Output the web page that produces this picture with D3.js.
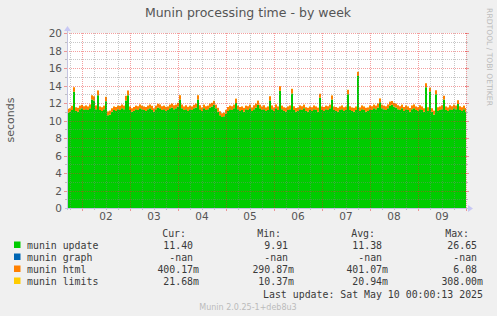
<!DOCTYPE html>
<html>
<head>
<meta charset="utf-8">
<script src="https://cdn.jsdelivr.net/npm/d3@7"></script>
<style>
  html, body { margin: 0; padding: 0; background: #f0f0f0; }
  svg { display: block; }
  text { font-family: "DejaVu Sans", sans-serif; }
  .mono { font-family: "DejaVu Sans Mono", monospace; font-size: 9.9px; fill: #3a3a3a; }
</style>
</head>
<body>
<script>
// hourly bins, first one starts at the left edge of the graph
const startTime = new Date(2025, 4, 1, 16, 30);
const endTime = new Date(2025, 4, 10, 0, 0);

// munin update (seconds)
const updateValues = [
  10.9, 11.0, 11.2, 13.3, 11.1, 11.0, 11.3, 11.4, 11.2, 11.3,
  11.2, 11.4, 12.4, 12.3, 11.3, 12.9, 11.2, 11.1, 11.3, 12.2,
  10.6, 10.7, 11.0, 11.2, 11.1, 11.3, 11.2, 11.4, 11.3, 12.3,
  12.9, 11.2, 11.0, 11.1, 11.3, 11.2, 11.4, 11.3, 11.2, 11.1,
  11.3, 11.4, 11.2, 11.0, 11.3, 11.5, 11.4, 11.2, 11.3, 11.1,
  11.2, 11.4, 11.5, 11.3, 11.4, 11.6, 12.4, 11.4, 11.2, 11.3,
  11.1, 11.3, 11.2, 11.4, 11.5, 12.4, 11.3, 11.1, 11.4, 11.2,
  11.3, 11.5, 11.6, 11.8, 11.4, 11.0, 10.6, 10.4, 10.5, 10.8,
  11.1, 11.3, 11.2, 11.4, 12.0, 11.3, 11.1, 11.2, 11.0, 11.3,
  11.2, 11.4, 11.1, 11.3, 11.5, 11.8, 11.4, 11.2, 11.3, 11.1,
  11.2, 12.3, 11.3, 11.1, 11.4, 11.2, 13.4, 11.3, 11.1, 11.0,
  11.2, 11.3, 13.1, 11.2, 11.0, 11.1, 11.3, 11.2, 11.4, 11.1,
  11.0, 11.2, 11.1, 11.3, 11.2, 11.0, 12.6, 11.2, 11.1, 11.3,
  11.2, 11.4, 12.4, 11.2, 11.1, 11.0, 11.2, 11.3, 11.1, 11.2,
  13.0, 11.2, 11.1, 11.0, 11.2, 15.1, 11.1, 11.3, 11.2, 11.0,
  11.1, 11.3, 11.2, 11.4, 11.3, 11.5, 12.1, 11.4, 11.3, 11.2,
  11.4, 11.7, 11.8, 11.6, 11.5, 11.3, 11.2, 11.4, 11.1, 11.3,
  11.2, 11.0, 11.3, 11.4, 11.2, 11.1, 11.3, 11.2, 11.0, 13.8,
  11.1, 13.3, 11.0, 10.7, 13.0, 11.1, 11.2, 11.3, 12.4, 11.2,
  11.1, 11.3, 11.2, 11.4, 11.3, 11.9, 11.2, 11.1, 11.3, 11.0
];

// munin html (seconds)
const htmlValues = [
  0.42, 0.40, 0.45, 0.50, 0.41, 0.43, 0.40, 0.38, 0.44, 0.42,
  0.40, 0.43, 0.50, 0.48, 0.41, 0.52, 0.40, 0.42, 0.39, 0.48,
  0.44, 0.42, 0.40, 0.41, 0.43, 0.40, 0.45, 0.42, 0.40, 0.50,
  0.52, 0.41, 0.40, 0.43, 0.39, 0.42, 0.44, 0.40, 0.41, 0.43,
  0.40, 0.42, 0.45, 0.41, 0.39, 0.40, 0.43, 0.42, 0.40, 0.44,
  0.41, 0.40, 0.42, 0.45, 0.40, 0.41, 0.50, 0.42, 0.40, 0.43,
  0.44, 0.40, 0.41, 0.39, 0.42, 0.50, 0.43, 0.40, 0.41, 0.44,
  0.40, 0.42, 0.41, 0.43, 0.40, 0.44, 0.45, 0.42, 0.40, 0.41,
  0.43, 0.40, 0.42, 0.41, 0.50, 0.40, 0.43, 0.41, 0.44, 0.40,
  0.42, 0.41, 0.40, 0.43, 0.42, 0.45, 0.40, 0.41, 0.43, 0.40,
  0.41, 0.48, 0.42, 0.40, 0.43, 0.41, 0.52, 0.40, 0.42, 0.44,
  0.40, 0.41, 0.50, 0.43, 0.42, 0.40, 0.41, 0.44, 0.40, 0.42,
  0.43, 0.40, 0.41, 0.42, 0.40, 0.45, 0.45, 0.41, 0.43, 0.40,
  0.42, 0.40, 0.45, 0.41, 0.43, 0.44, 0.40, 0.42, 0.41, 0.40,
  0.50, 0.42, 0.40, 0.43, 0.41, 0.45, 0.40, 0.42, 0.41, 0.43,
  0.40, 0.42, 0.44, 0.41, 0.40, 0.43, 0.42, 0.41, 0.40, 0.42,
  0.43, 0.45, 0.42, 0.40, 0.41, 0.44, 0.42, 0.40, 0.43, 0.41,
  0.40, 0.42, 0.41, 0.43, 0.40, 0.42, 0.44, 0.41, 0.40, 0.45,
  0.42, 0.44, 0.40, 0.41, 0.45, 0.42, 0.40, 0.43, 0.42, 0.41,
  0.40, 0.43, 0.42, 0.41, 0.40, 0.42, 0.44, 0.41, 0.40, 0.42
];

// munin limits (seconds)
const limitsValues = [
  0.021, 0.020, 0.022, 0.019, 0.021, 0.023, 0.020, 0.021, 0.022, 0.020,
  0.019, 0.021, 0.022, 0.020, 0.021, 0.023, 0.020, 0.019, 0.021, 0.022,
  0.020, 0.021, 0.022, 0.020, 0.019, 0.021, 0.023, 0.020, 0.021, 0.022,
  0.021, 0.020, 0.022, 0.019, 0.021, 0.023, 0.020, 0.021, 0.022, 0.020,
  0.019, 0.021, 0.022, 0.020, 0.021, 0.023, 0.020, 0.019, 0.021, 0.022,
  0.020, 0.021, 0.022, 0.020, 0.019, 0.021, 0.023, 0.020, 0.021, 0.022,
  0.021, 0.020, 0.022, 0.019, 0.021, 0.023, 0.020, 0.021, 0.022, 0.020,
  0.019, 0.021, 0.022, 0.020, 0.021, 0.023, 0.020, 0.019, 0.021, 0.022,
  0.020, 0.021, 0.022, 0.020, 0.019, 0.021, 0.023, 0.020, 0.021, 0.022,
  0.021, 0.020, 0.022, 0.019, 0.021, 0.023, 0.020, 0.021, 0.022, 0.020,
  0.019, 0.021, 0.022, 0.020, 0.021, 0.023, 0.020, 0.019, 0.021, 0.022,
  0.020, 0.021, 0.022, 0.020, 0.019, 0.021, 0.023, 0.020, 0.021, 0.022,
  0.021, 0.020, 0.022, 0.019, 0.021, 0.023, 0.020, 0.021, 0.022, 0.020,
  0.019, 0.021, 0.022, 0.020, 0.021, 0.023, 0.020, 0.019, 0.021, 0.022,
  0.020, 0.021, 0.022, 0.020, 0.019, 0.021, 0.023, 0.020, 0.021, 0.022,
  0.021, 0.020, 0.022, 0.019, 0.021, 0.023, 0.020, 0.021, 0.022, 0.020,
  0.019, 0.021, 0.022, 0.020, 0.021, 0.023, 0.020, 0.019, 0.021, 0.022,
  0.020, 0.021, 0.022, 0.020, 0.019, 0.021, 0.023, 0.020, 0.021, 0.022,
  0.021, 0.020, 0.022, 0.019, 0.021, 0.023, 0.020, 0.021, 0.022, 0.020,
  0.019, 0.021, 0.022, 0.020, 0.021, 0.023, 0.020, 0.019, 0.021, 0.022
];

const legendNames = ["munin update", "munin graph", "munin html", "munin limits"];
const legendColors = ["#00cc00", "#0066b3", "#ff8000", "#ffcc00"];
const curValues = ["11.40 ", "-nan ", "400.17m", "21.68m"];
const minValues = ["9.91 ", "-nan ", "290.87m", "10.37m"];
const avgValues = ["11.38 ", "-nan ", "401.07m", "20.94m"];
const maxValues = ["26.65 ", "-nan ", "6.08 ", "308.00m"];
const statHeaders = ["Cur:", "Min:", "Avg:", "Max:"];
const yTicks = [0, 2, 4, 6, 8, 10, 12, 14, 16, 18, 20];

const w = 497, h = 316;
const pLeft = 67, pRight = 466, pTop = 33, pBottom = 208;

const svg = d3.select("body").append("svg")
  .attr("width", w)
  .attr("height", h);

const x = d3.scaleTime().domain([startTime, endTime]).range([pLeft, pRight]);
const y = d3.scaleLinear().domain([0, 20]).range([pBottom, pTop]);

// plot background
svg.append("rect")
  .attr("x", pLeft).attr("y", pTop)
  .attr("width", pRight - pLeft).attr("height", pBottom - pTop)
  .attr("fill", "#ffffff");

svg.append("clipPath").attr("id", "clip")
  .append("rect")
  .attr("x", pLeft).attr("y", pTop - 5)
  .attr("width", pRight - pLeft).attr("height", pBottom - pTop + 5);

// rows, one per hour, plus one closing row for the step curve
const rows = updateValues.map((v, i) => ({
  t: d3.timeHour.offset(startTime, i),
  update: v,
  html: htmlValues[i],
  limits: limitsValues[i]
}));
rows.push(Object.assign({}, rows[rows.length - 1], { t: d3.timeHour.offset(startTime, rows.length) }));

const stack = d3.stack().keys(["update", "html", "limits"]);
const layers = stack(rows);
const layerColors = { update: "#00cc00", html: "#ff8000", limits: "#ffcc00" };

const area = d3.area()
  .curve(d3.curveStepAfter)
  .x(d => x(d.data.t))
  .y0(d => y(d[0]))
  .y1(d => y(d[1]));

svg.append("g").attr("clip-path", "url(#clip)")
  .selectAll("path")
  .data(layers)
  .enter()
  .append("path")
  .attr("d", area)
  .attr("fill", d => layerColors[d.key]);

// grid (drawn over the data, like rrdtool)
const minorX = d3.timeHour.every(6).range(startTime, endTime).filter(d => d.getHours() !== 0);
const majorX = d3.timeDay.range(startTime, d3.timeHour.offset(endTime, 1));
const minorY = d3.range(1, 20, 2);
const minorColor = "rgba(130,130,130,0.45)";
const majorColor = "rgba(230,40,40,0.45)";

const grid = svg.append("g");
grid.selectAll(".minx").data(minorX).enter().append("line")
  .attr("x1", d => Math.round(x(d)) + 0.5).attr("x2", d => Math.round(x(d)) + 0.5)
  .attr("y1", pTop).attr("y2", pBottom)
  .attr("stroke", minorColor).attr("stroke-dasharray", "1,1");
grid.selectAll(".miny").data(minorY).enter().append("line")
  .attr("x1", pLeft).attr("x2", pRight)
  .attr("y1", d => Math.round(y(d)) + 0.5).attr("y2", d => Math.round(y(d)) + 0.5)
  .attr("stroke", minorColor).attr("stroke-dasharray", "1,1");
grid.selectAll(".majx").data(majorX).enter().append("line")
  .attr("x1", d => Math.round(x(d)) + 0.5).attr("x2", d => Math.round(x(d)) + 0.5)
  .attr("y1", pTop).attr("y2", pBottom)
  .attr("stroke", majorColor).attr("stroke-dasharray", "1,1");
grid.selectAll(".majy").data(yTicks.slice(1)).enter().append("line")
  .attr("x1", pLeft).attr("x2", pRight)
  .attr("y1", d => Math.round(y(d)) + 0.5).attr("y2", d => Math.round(y(d)) + 0.5)
  .attr("stroke", majorColor).attr("stroke-dasharray", "1,1");

// little tick marks at the edges
const ticks = svg.append("g");
ticks.selectAll(".tmx").data(minorX).enter().append("line")
  .attr("x1", d => Math.round(x(d)) + 0.5).attr("x2", d => Math.round(x(d)) + 0.5)
  .attr("y1", pBottom).attr("y2", pBottom + 2).attr("stroke", minorColor);
ticks.selectAll(".tMx").data(majorX).enter().append("line")
  .attr("x1", d => Math.round(x(d)) + 0.5).attr("x2", d => Math.round(x(d)) + 0.5)
  .attr("y1", pBottom).attr("y2", pBottom + 3).attr("stroke", majorColor);
[[pLeft - 2, pLeft], [pRight, pRight + 2]].forEach(([a, b]) => {
  ticks.selectAll(null).data(minorY).enter().append("line")
    .attr("x1", a).attr("x2", b)
    .attr("y1", d => Math.round(y(d)) + 0.5).attr("y2", d => Math.round(y(d)) + 0.5)
    .attr("stroke", minorColor);
  ticks.selectAll(null).data(yTicks.slice(1)).enter().append("line")
    .attr("x1", a - 1).attr("x2", b + 1)
    .attr("y1", d => Math.round(y(d)) + 0.5).attr("y2", d => Math.round(y(d)) + 0.5)
    .attr("stroke", majorColor);
});

// axis lines + arrows
const axisColor = "#c4c4e0";
svg.append("line").attr("x1", pLeft - 2).attr("x2", pRight + 2)
  .attr("y1", pBottom + 0.5).attr("y2", pBottom + 0.5).attr("stroke", axisColor);
svg.append("line").attr("x1", pLeft + 0.5).attr("x2", pLeft + 0.5)
  .attr("y1", pBottom + 2).attr("y2", pTop - 3).attr("stroke", axisColor);
svg.append("path")
  .attr("d", `M${pRight + 2},${pBottom - 3}L${pRight + 7},${pBottom + 0.5}L${pRight + 2},${pBottom + 4}Z`)
  .attr("fill", "#c8c8f4");
svg.append("path")
  .attr("d", `M${pLeft - 3},${pTop - 2}L${pLeft + 0.5},${pTop - 7}L${pLeft + 4},${pTop - 2}Z`)
  .attr("fill", "#c8c8f4");

// tick labels
svg.append("g").selectAll("text").data(yTicks).enter().append("text")
  .attr("x", pLeft - 5).attr("y", d => y(d) + 4)
  .attr("text-anchor", "end")
  .attr("font-size", "10.5px").attr("fill", "#555")
  .text(d => d);

const dayLabels = d3.timeDay.range(d3.timeDay.offset(d3.timeDay.floor(startTime), 1), endTime)
  .map(d => d3.timeHour.offset(d, 12));
svg.append("g").selectAll("text").data(dayLabels).enter().append("text")
  .attr("x", d => x(d)).attr("y", 220)
  .attr("text-anchor", "middle")
  .attr("font-size", "10.5px").attr("fill", "#555")
  .text(d => d3.timeFormat("%d")(d));

// titles
svg.append("text").attr("x", 248).attr("y", 17)
  .attr("text-anchor", "middle").attr("font-size", "12.5px").attr("fill", "#555")
  .text("Munin processing time - by week");
svg.append("text")
  .attr("transform", "translate(14,120) rotate(-90)")
  .attr("text-anchor", "middle").attr("font-size", "11px").attr("fill", "#555")
  .text("seconds");
svg.append("text")
  .attr("transform", "translate(487,57) rotate(90)")
  .attr("text-anchor", "middle").attr("font-size", "7.6px").attr("fill", "#bbb")
  .text("RRDTOOL / TOBI OETIKER");

// legend
const rowY = [248.5, 260.5, 272.5, 284.5];
const colEnds = [199, 294, 388, 483];
const headerEnds = [186, 281, 375, 469];
const lg = svg.append("g");
lg.selectAll("rect").data(legendNames).enter().append("rect")
  .attr("x", 14).attr("y", (d, i) => rowY[i] - 7)
  .attr("width", 6.5).attr("height", 6.5)
  .attr("fill", (d, i) => legendColors[i]);
lg.selectAll(".name").data(legendNames).enter().append("text")
  .attr("class", "mono").attr("x", 27).attr("y", (d, i) => rowY[i])
  .text(d => d);
statHeaders.forEach((hd, c) => {
  lg.append("text").attr("class", "mono")
    .attr("x", headerEnds[c]).attr("y", 236.5).attr("text-anchor", "end")
    .text(hd);
});
[curValues, minValues, avgValues, maxValues].forEach((col, c) => {
  col.forEach((v, i) => {
    lg.append("text").attr("class", "mono")
      .attr("x", colEnds[c]).attr("y", rowY[i]).attr("text-anchor", "end")
      .style("white-space", "pre")
      .text(v);
  });
});
lg.append("text").attr("class", "mono")
  .attr("x", 483).attr("y", 297.5).attr("text-anchor", "end")
  .text("Last update: Sat May 10 00:00:13 2025");
svg.append("text").attr("x", 248).attr("y", 310)
  .attr("text-anchor", "middle").attr("font-size", "8px").attr("fill", "#bbb")
  .text("Munin 2.0.25-1+deb8u3");
</script>
</body>
</html>
